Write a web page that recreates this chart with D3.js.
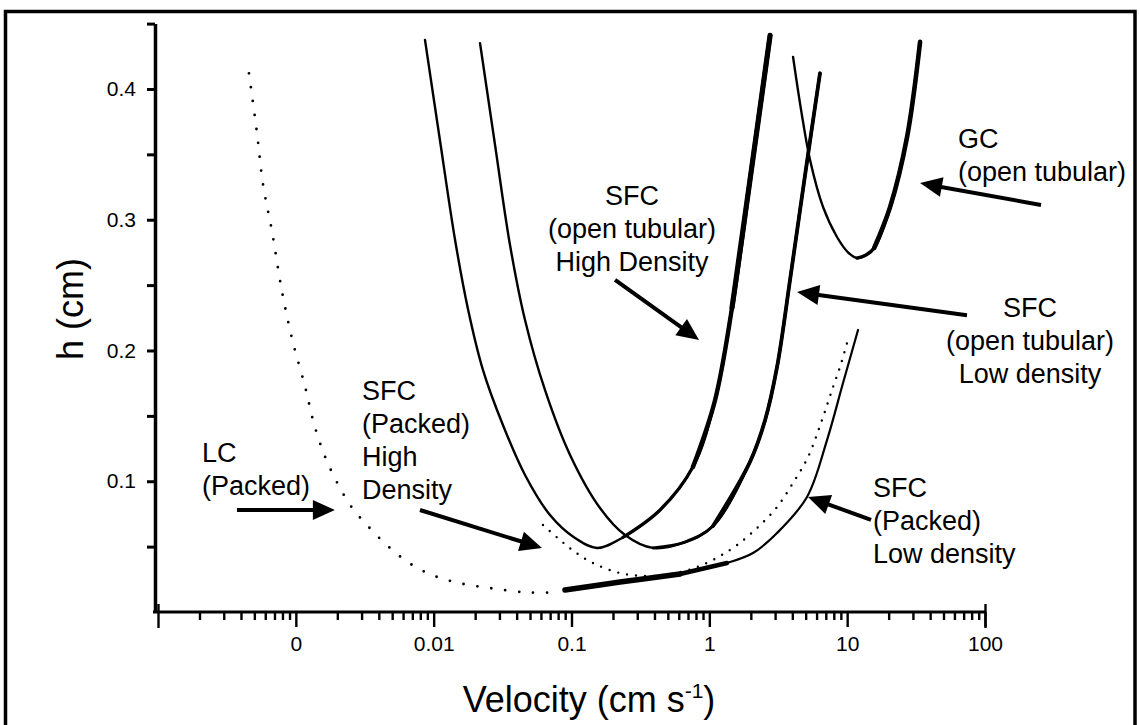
<!DOCTYPE html>
<html><head><meta charset="utf-8">
<script src="https://cdn.jsdelivr.net/npm/d3@7"></script>
<style>
body{margin:0;background:#fff}
svg{display:block}
text{font-family:"Liberation Sans",Arial,Helvetica,sans-serif;fill:#000}
</style>
</head><body>
<svg id="chart" width="1140" height="725"></svg>
<script>
// ---------- data (velocity in cm/s, plate height h in cm) ----------
const lcVelocity = [0.000457, 0.000523, 0.000578, 0.000672, 0.000794, 0.000954, 0.00117, 0.00133, 0.0015, 0.00177, 0.00247, 0.00345, 0.00482, 0.00674, 0.00989, 0.0155, 0.0269, 0.0475, 0.0734];
const lcH        = [0.412, 0.366, 0.327, 0.291, 0.245, 0.206, 0.172, 0.147, 0.129, 0.110, 0.082, 0.064, 0.049, 0.037, 0.028, 0.022, 0.018, 0.015, 0.015];

const otHighVelocity = [0.00865, 0.0111, 0.0143, 0.0178, 0.0228, 0.0318, 0.046, 0.0698, 0.106, 0.153, 0.236, 0.439, 0.761, 1.10, 1.46, 1.97, 2.76];
const otHighH        = [0.4375, 0.361, 0.2845, 0.231, 0.185, 0.143, 0.1048, 0.0742, 0.0566, 0.049, 0.057, 0.078, 0.111, 0.162, 0.2325, 0.330, 0.441];

const otLowVelocity = [0.0217, 0.0279, 0.0358, 0.046, 0.0642, 0.0976, 0.161, 0.2445, 0.390, 0.666, 1.063, 1.97, 2.54, 3.10, 3.85, 4.95, 6.35];
const otLowH        = [0.435, 0.357, 0.2807, 0.2233, 0.1698, 0.1201, 0.0795, 0.0589, 0.049, 0.0535, 0.0658, 0.1147, 0.1468, 0.1874, 0.2539, 0.3342, 0.412];

const gcVelocity = [4.05, 4.63, 5.38, 6.68, 8.44, 10.1, 11.8, 13.7, 15.7, 20.5, 27.2, 33.8];
const gcH        = [0.4245, 0.384, 0.3457, 0.3098, 0.2868, 0.2753, 0.2707, 0.273, 0.2784, 0.3098, 0.3633, 0.436];

const packedLowVelocity = [0.0897, 0.225, 0.613, 1.344, 2.074, 3.098, 5.113, 7.142, 9.33, 11.99];
const packedLowH        = [0.0168, 0.0229, 0.0291, 0.0375, 0.0451, 0.0604, 0.088, 0.1315, 0.1751, 0.2157];

const packedHighVelocity = [0.0621, 0.0825, 0.106, 0.143, 0.225, 0.371, 0.613, 0.856, 1.195, 1.588, 2.218, 3.098, 4.047, 5.198, 6.568, 7.896, 8.874, 9.975];
const packedHighH        = [0.0665, 0.0551, 0.0459, 0.0375, 0.0298, 0.0275, 0.0306, 0.0352, 0.0428, 0.0512, 0.0642, 0.0803, 0.0987, 0.1185, 0.1468, 0.1721, 0.1874, 0.2057];

// ticks
const xTickValues = [0.001, 0.01, 0.1, 1, 10, 100];
const xTickLabels = ["0", "0.01", "0.1", "1", "10", "100"];
const yTickValues = [0.1, 0.2, 0.3, 0.4];
const yTickLabels = ["0.1", "0.2", "0.3", "0.4"];

// annotations (data coordinates)
const labelLines  = [["LC","(Packed)"], ["SFC","(Packed)","High","Density"], ["SFC","(open tubular)","High Density"], ["SFC","(open tubular)","Low density"], ["GC","(open tubular)"], ["SFC","(Packed)","Low density"]];
const labelV      = [2.085e-4, 3.02e-3, 0.2748, 212, 63.7, 15.4];
const labelH      = [0.1147, 0.1621, 0.3113, 0.2256, 0.3549, 0.088];
const labelAnchor = ["start", "start", "middle", "middle", "start", "start"];
const arrowFromV  = [3.74e-4, 7.96e-3, 0.207, 74.0, 255, 14.9];
const arrowFromH  = [0.078, 0.078, 0.254, 0.227, 0.3113, 0.0704];
const arrowToV    = [1.92e-3, 0.0611, 0.842, 4.33, 33.8, 5.2];
const arrowToH    = [0.078, 0.049, 0.208, 0.2447, 0.328, 0.088];

// ---------- drawing ----------
const svg = d3.select("#chart");
const x = d3.scaleLog().domain([1e-4, 100]).range([158, 985]);
const y = d3.scaleLinear().domain([0, 0.45]).range([612, 23.6]);

// outer frame
svg.append("rect").attr("x", 5.5).attr("y", 11.5).attr("width", 1129.5).attr("height", 730)
  .attr("fill", "none").attr("stroke", "#000").attr("stroke-width", 3.5);

// x axis: minor ticks
const minor = [];
for (let e = -4; e <= 1; e++) for (let m = 2; m <= 9; m++) minor.push(m * Math.pow(10, e));
const gx = svg.append("g").attr("transform", "translate(0,612)");
gx.append("g").call(d3.axisBottom(x).tickValues(minor).tickSize(8).tickSizeOuter(0).tickFormat(""))
  .call(g => g.select(".domain").remove());
gx.append("g").call(d3.axisBottom(x).tickValues(xTickValues).tickSize(15).tickSizeOuter(0).tickPadding(9)
    .tickFormat((d, i) => xTickLabels[i]))
  .call(g => g.select(".domain").remove());
gx.append("g").call(d3.axisBottom(x).tickValues([1e-4, 100]).tickSize(16).tickFormat(""))
  .call(g => g.select(".domain").remove())
  .call(g => g.selectAll(".tick line").attr("y1", -8));
gx.selectAll(".tick line").attr("stroke", "#000").attr("stroke-width", 2.4);
gx.selectAll(".tick text").attr("font-size", 21).attr("fill", "#000")
  .attr("font-family", "'Liberation Sans', Arial, sans-serif");
svg.append("line").attr("x1", 153).attr("x2", x(100)).attr("y1", 612).attr("y2", 612)
  .attr("stroke", "#000").attr("stroke-width", 3.2);

// y axis
const yAll = d3.range(0.05, 0.451, 0.05);
const gy = svg.append("g").attr("transform", "translate(155,0)");
gy.call(d3.axisLeft(y).tickValues(yAll).tickSize(8).tickSizeOuter(0).tickPadding(11)
  .tickFormat(d => { const i = yTickValues.findIndex(v => Math.abs(v - d) < 1e-9); return i >= 0 ? yTickLabels[i] : ""; }));
gy.select(".domain").attr("stroke", "#000").attr("stroke-width", 3.5);
gy.selectAll(".tick line").attr("stroke", "#000").attr("stroke-width", 3);
gy.selectAll(".tick text").attr("font-size", 21).attr("fill", "#000")
  .attr("font-family", "'Liberation Sans', Arial, sans-serif");

// axis titles
const xt = svg.append("text").attr("x", 589).attr("y", 712).attr("text-anchor", "middle").attr("font-size", 36);
xt.append("tspan").text("Velocity (cm s");
xt.append("tspan").attr("dy", -14).attr("font-size", 21).text("-1");
xt.append("tspan").attr("dy", 14).text(")");
svg.append("text").attr("transform", "translate(83,309) rotate(-90)").attr("text-anchor", "middle")
  .attr("font-size", 36).text("h (cm)");

// curves
const line = d3.line().x(d => x(d[0])).y(d => y(d[1])).curve(d3.curveCatmullRom.alpha(0.5));
function pts(v, h) { return v.map((d, i) => [d, h[i]]); }
function draw(data, width, dash) {
  const p = svg.append("path").attr("d", line(data)).attr("fill", "none").attr("stroke", "#000")
    .attr("stroke-width", width).attr("stroke-linejoin", "round").attr("stroke-linecap", "round");
  if (dash) p.attr("stroke-dasharray", dash);
  return p;
}
const lc = pts(lcVelocity, lcH);
const otHigh = pts(otHighVelocity, otHighH);
const otLow = pts(otLowVelocity, otLowH);
const gc = pts(gcVelocity, gcH);
const pLow = pts(packedLowVelocity, packedLowH);
const pHigh = pts(packedHighVelocity, packedHighH);

draw(lc, 2.8, "0 14");
draw(pHigh, 2.4, "0 9");
draw(pLow, 2.2);
draw(pLow.filter(d => d[0] <= 0.7), 5.5);
draw(pLow.filter(d => d[0] >= 0.6 && d[0] <= 1.4), 4.5);
draw(otHigh, 2.4);
draw(otHigh.filter(d => d[0] >= 0.236), 3.2);
draw(otHigh.filter(d => d[0] >= 0.76), 4.4);
draw(otHigh.filter(d => d[0] >= 1.46), 5.2);
draw(otLow, 2.4);
draw(otLow.filter(d => d[0] >= 0.39), 3.0);
draw(otLow.filter(d => d[0] >= 1.06), 3.8);
draw(gc, 2.4);
draw(gc.filter(d => d[0] >= 11.8), 3.4);
draw(gc.filter(d => d[0] >= 15.7), 4.6);

// annotations
labelLines.forEach((lines, i) => {
  const t = svg.append("text").attr("x", x(labelV[i])).attr("y", y(labelH[i]))
    .attr("text-anchor", labelAnchor[i]).attr("font-size", 27);
  lines.forEach((s, j) => t.append("tspan").attr("x", x(labelV[i])).attr("dy", j === 0 ? 0 : 33).text(s));
});
arrowFromV.forEach((v, i) => {
  const x1 = x(v), y1 = y(arrowFromH[i]), x2 = x(arrowToV[i]), y2 = y(arrowToH[i]);
  const dx = x2 - x1, dy = y2 - y1, L = Math.hypot(dx, dy), ux = dx / L, uy = dy / L;
  const hl = 22, hw = 10, bx = x2 - ux * hl, by = y2 - uy * hl;
  svg.append("line").attr("x1", x1).attr("y1", y1).attr("x2", bx + ux * 2).attr("y2", by + uy * 2)
    .attr("stroke", "#000").attr("stroke-width", 4);
  svg.append("polygon").attr("fill", "#000")
    .attr("points", [[x2, y2], [bx - uy * hw, by + ux * hw], [bx + uy * hw, by - ux * hw]].map(p => p.join(",")).join(" "));
});
</script>
</body></html>
